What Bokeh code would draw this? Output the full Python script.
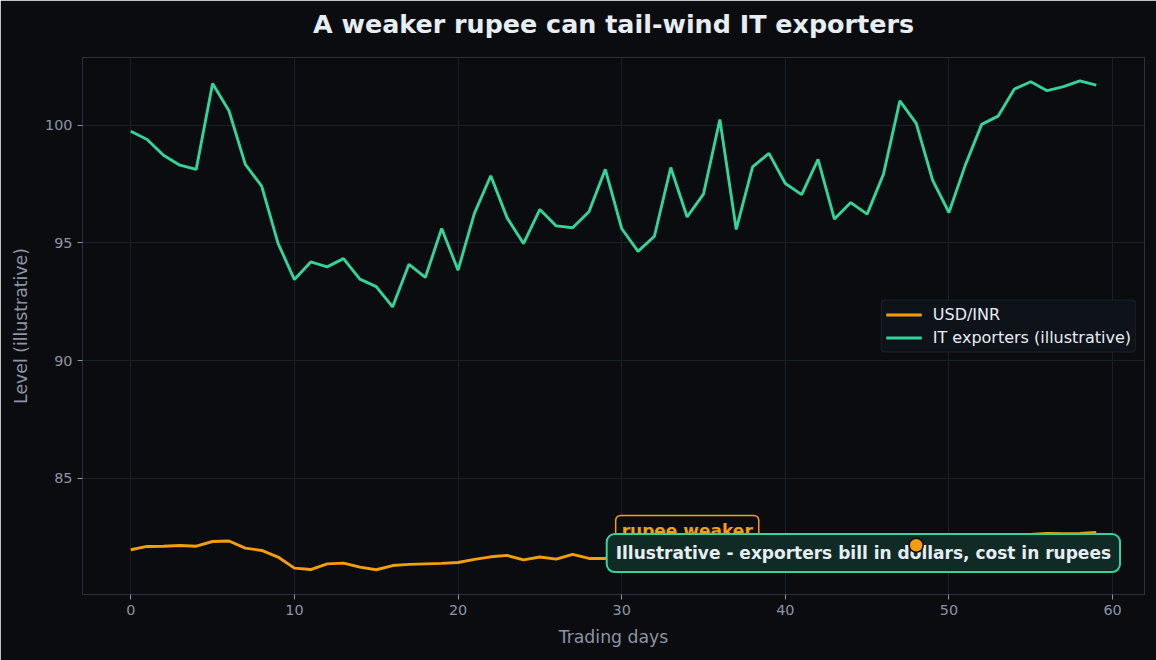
from bokeh.plotting import figure
from bokeh.models import Range1d, Label, Legend, LegendItem, FixedTicker
from bokeh.embed import file_html
from bokeh.resources import INLINE

# ---- data -------------------------------------------------------------
days = list(range(60))

usd_inr = [
    81.97, 82.11, 82.12, 82.15, 82.12, 82.32, 82.34, 82.04, 81.94, 81.66,
    81.19, 81.13, 81.37, 81.40, 81.23, 81.12, 81.30, 81.35, 81.37, 81.39,
    81.43, 81.56, 81.67, 81.73, 81.54, 81.66, 81.57, 81.77, 81.60, 81.60,
    81.62, 81.70, 81.66, 81.78, 81.85, 81.80, 81.92, 81.97, 81.90, 82.02,
    82.08, 82.00, 82.10, 82.14, 82.08, 82.13, 82.20, 82.12, 82.16, 82.24,
    82.30, 82.36, 82.42, 82.48, 82.56, 82.62, 82.66, 82.65, 82.66, 82.70,
]

it_exporters = [
    99.74, 99.39, 98.72, 98.30, 98.12, 101.77, 100.61, 98.33, 97.41, 94.98,
    93.44, 94.19, 93.98, 94.33, 93.46, 93.14, 92.28, 94.09, 93.53, 95.61,
    93.84, 96.25, 97.85, 96.06, 94.97, 96.42, 95.72, 95.64, 96.32, 98.12,
    95.61, 94.64, 95.28, 98.20, 96.10, 97.07, 100.24, 95.57, 98.23, 98.80,
    97.52, 97.05, 98.54, 96.01, 96.71, 96.22, 97.92, 101.03, 100.07, 97.66,
    96.29, 98.30, 100.03, 100.38, 101.53, 101.84, 101.46, 101.63, 101.88, 101.70,
]

x_ticks = [0, 10, 20, 30, 40, 50, 60]
y_ticks = [85, 90, 95, 100]
marker_day = 48

# ---- palette ----------------------------------------------------------
BG = "#0b0c10"
GRID = "#1a202a"
SPINE = "#29313d"
MUTED = "#8b95a3"
TEXT = "#e6edf3"
ORANGE = "#f59e0b"
GREEN = "#34d399"
FONT = "DejaVu Sans"

p = figure(
    width=1156, height=660,
    x_range=Range1d(-2.95, 61.95), y_range=Range1d(80.07, 102.87),
    output_backend="svg", toolbar_location=None,
    background_fill_color=BG, border_fill_color=BG,
    min_border_left=82, min_border_right=12,
    min_border_top=57, min_border_bottom=66,
    title="A weaker rupee can tail-wind IT exporters",
)

# title sits in the top border; bottom padding lifts it away from the frame
p.title.align = "center"
p.title.vertical_align = "bottom"
p.title.text_color = TEXT
p.title.text_font = FONT
p.title.text_font_size = "25.4px"
p.title.text_font_style = "bold"
p.title.standoff = 12
p.title.padding = dict(left=0, right=0, top=0, bottom=13)

p.outline_line_color = SPINE
p.outline_line_width = 1

for ax in (p.xaxis, p.yaxis):
    ax.axis_line_color = None
    ax.major_tick_line_color = MUTED
    ax.major_tick_in = 0
    ax.major_tick_out = 5
    ax.minor_tick_line_color = None
    ax.major_label_text_color = MUTED
    ax.major_label_text_font = FONT
    ax.major_label_text_font_size = "14.4px"
    ax.axis_label_text_color = MUTED
    ax.axis_label_text_font = FONT
    ax.axis_label_text_font_size = "17.3px"
    ax.axis_label_text_font_style = "normal"

p.xaxis.ticker = FixedTicker(ticks=x_ticks)
p.yaxis.ticker = FixedTicker(ticks=y_ticks)
p.xaxis.axis_label = "Trading days"
p.yaxis.axis_label = "Level (illustrative)"
p.xaxis.major_label_standoff = 5
p.yaxis.major_label_standoff = 5
p.xaxis.axis_label_standoff = 9
p.yaxis.axis_label_standoff = 11

p.xgrid.grid_line_color = GRID
p.ygrid.grid_line_color = GRID
p.xgrid.grid_line_width = 1
p.ygrid.grid_line_width = 1

# ---- series -----------------------------------------------------------
r_usd = p.line(days, usd_inr, line_color=ORANGE, line_width=2.9)
r_it = p.line(days, it_exporters, line_color=GREEN, line_width=2.9)

legend = Legend(
    items=[LegendItem(label="USD/INR", renderers=[r_usd]),
           LegendItem(label="IT exporters (illustrative)", renderers=[r_it])],
    location="center_right", margin=8, padding=4, spacing=3,
    glyph_width=36, glyph_height=20, label_height=20, label_standoff=11,
    label_text_font=FONT, label_text_font_size="16px", label_text_color=TEXT,
    background_fill_color="#0e131a", background_fill_alpha=1.0,
    border_line_color=SPINE, border_line_width=1,
)
legend.border_radius = 4
p.add_layout(legend)

# ---- annotations ------------------------------------------------------
weaker = Label(
    x=30, y=82.75, x_offset=-6, text="rupee weaker",
    text_align="left", text_baseline="middle",
    text_font=FONT, text_font_size="17px", text_font_style="bold",
    text_color=ORANGE, padding=6, border_radius=5,
    background_fill_color=BG, background_fill_alpha=1.0,
    border_line_color=ORANGE, border_line_width=1.5,
)
p.add_layout(weaker)

note = Label(
    x=44.77, y=81.83,
    text="Illustrative - exporters bill in dollars, cost in rupees",
    text_align="center", text_baseline="middle",
    text_font=FONT, text_font_size="17px", text_font_style="bold",
    text_color=TEXT, padding=9, border_radius=8,
    background_fill_color="#102a26", background_fill_alpha=1.0,
    border_line_color=GREEN, border_line_width=2,
)
p.add_layout(note)

p.scatter(
    x=[days[marker_day]], y=[usd_inr[marker_day]], size=14,
    fill_color=ORANGE, line_color=BG, line_width=1.5, level="overlay",
)

open("out.html", "w").write(file_html(p, INLINE))
